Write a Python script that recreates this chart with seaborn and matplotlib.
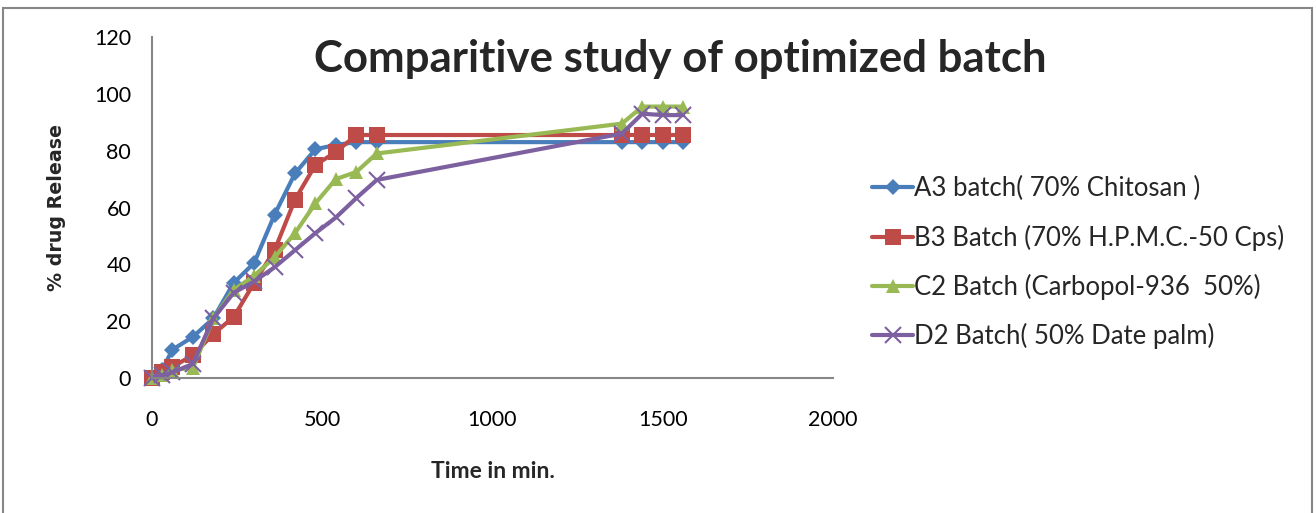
import matplotlib.pyplot as plt
import numpy as np
import pandas as pd
import seaborn as sns
from matplotlib.patches import Rectangle

sns.set_theme(style="white")
plt.rcParams["font.family"] = ["Lato", "DejaVu Sans"]

# sampling times (min)
time_min = [0, 30, 60, 120, 180, 240, 300, 360, 420, 480, 540, 600, 660, 1380, 1440, 1500, 1560]

# % drug release
a3_chitosan = [0, 3, 10, 14.5, 21, 33.5, 40.5, 57.5, 72, 80.5, 82, 83, 83, 83, 83, 83, 83]
b3_hpmc = [0, 2, 4, 8, 15.5, 21.5, 33.5, 45, 62.8, 75, 79.5, 85.5, 85.5, 85.5, 85.5, 85.5, 85.5]
c2_carbopol = [0, 1, 3, 3.5, 21, 31, 36, 42.5, 51, 61.5, 70, 72.5, 79, 89.5, 95.5, 95.5, 95.5]
d2_datepalm = [0, 1, 2, 5, 21, 30, 34, 39, 45, 51, 56.5, 63.3, 69.7, 86, 93, 92.5, 92.5]

labels = [
    "A3 batch( 70% Chitosan )",
    "B3 Batch (70% H.P.M.C.-50 Cps)",
    "C2 Batch (Carbopol-936  50%)",
    "D2 Batch( 50% Date palm)",
]
colors = ["#4A7EBB", "#BE4B48", "#98B954", "#7D60A0"]
markers = ["D", "s", "^", "x"]
msizes = [8.5, 11.5, 10.5, 11]

series = [a3_chitosan, b3_hpmc, c2_carbopol, d2_datepalm]

fig = plt.figure(figsize=(13.16, 5.13), dpi=100)
ax = fig.add_axes([0.1155, 0.263, 0.5175, 0.665])

for vals, lab, col, mk, ms in zip(series, labels, colors, markers, msizes):
    df = pd.DataFrame({"Time": time_min, "Release": vals})
    sns.lineplot(
        data=df, x="Time", y="Release", ax=ax, color=col, linewidth=3,
        marker=mk, markersize=ms, markeredgewidth=1.5 if mk == "x" else 0,
        markeredgecolor=col, label=lab, clip_on=False,
    )

ax.set_xlim(0, 2000)
ax.set_ylim(0, 120)
ax.set_xticks(np.arange(0, 2001, 500))
ax.set_yticks(np.arange(0, 121, 20))
ax.tick_params(axis="both", labelsize=15.5, colors="black")
ax.tick_params(axis="x", direction="out", length=6, width=1, color="#868686", pad=17)
ax.tick_params(axis="y", direction="out", length=5, width=1, color="#868686", pad=10)
ax.set_xlabel("Time in min.", fontsize=16.5, fontweight="bold", labelpad=22)
ax.set_ylabel("% drug Release", fontsize=13.7, fontweight="bold", family=["DejaVu Sans"], labelpad=20)
for side in ["top", "right"]:
    ax.spines[side].set_visible(False)
for side in ["left", "bottom"]:
    ax.spines[side].set_color("#868686")
    ax.spines[side].set_linewidth(1.5)

fig.text(0.517, 0.885, "Comparitive study of optimized batch", fontsize=31.5,
         fontweight="bold", ha="center", va="center")

ax.legend(loc="center left", frameon=False, fontsize=18.5, handlelength=1.6,
          labelspacing=0.9, handletextpad=0.05)
leg = ax.get_legend()
leg.set_bbox_to_anchor((0.645, 0.488), transform=fig.transFigure)

fig.patches.append(Rectangle((0.002, -0.01), 0.995, 0.995, transform=fig.transFigure,
                             fill=False, edgecolor="#868686", linewidth=1.5))

fig.savefig("out.png", dpi=100)
